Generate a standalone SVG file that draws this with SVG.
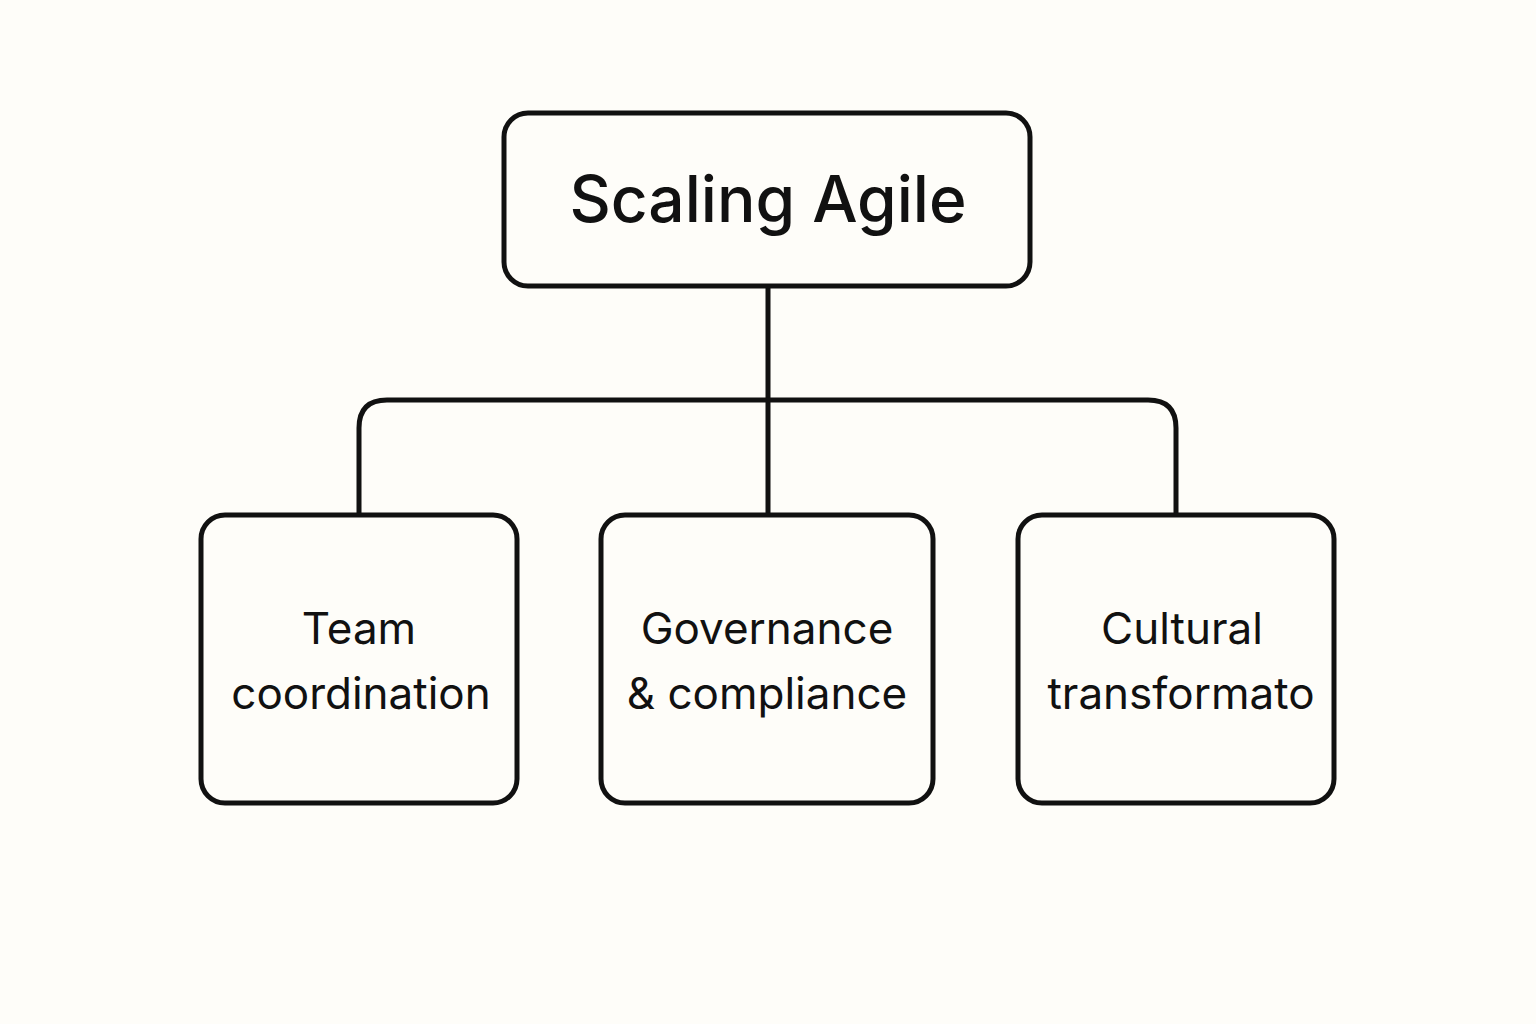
<svg xmlns="http://www.w3.org/2000/svg" width="1536" height="1024" viewBox="0 0 1536 1024">
<style>
.box{fill:#fefdf9;stroke:#111;stroke-width:5}
.ln{fill:none;stroke:#111;stroke-width:5}
text{font-family:Inter,"Liberation Sans",sans-serif;fill:#111;text-anchor:middle}
.t{font-size:44px}
.h{font-size:64px;font-weight:500}
</style>
<rect width="1536" height="1024" fill="#fefdf9"/>
<g id="connectors">
<path class="ln" d="M768 287V514"/>
<path class="ln" d="M359 514V428Q359 400 387 400H1148Q1176 400 1176 428V514"/>
</g>
<g id="root"><rect class="box" x="504" y="113" width="526" height="173" rx="24"/><text class="h" x="768" y="222">Scaling Agile</text></g>
<g id="team"><rect class="box" x="201" y="515" width="316" height="288" rx="24"/><text class="t" x="359" y="644">Team</text><text class="t" x="361" y="709">coordination</text></g>
<g id="gov"><rect class="box" x="601" y="515" width="332" height="288" rx="24"/><text class="t" x="767" y="644">Governance</text><text class="t" x="767" y="709">&amp; compliance</text></g>
<g id="cult"><rect class="box" x="1018" y="515" width="316" height="288" rx="24"/><text class="t" x="1182" y="644">Cultural</text><text class="t" x="1181" y="709">transformato</text></g>
</svg>
